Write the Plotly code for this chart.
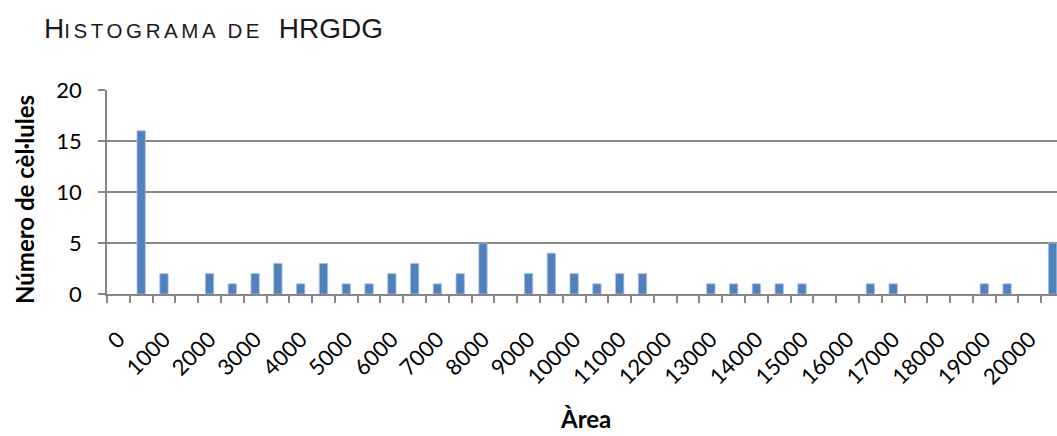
import plotly.graph_objects as go

# Histogram bins (upper bound of each 500-wide bin) plus the overflow bin
bins = [str(v) for v in range(0, 20001, 500)] + ["Més"]
counts = [0, 16, 2, 0, 2, 1, 2, 3, 1, 3,
          1, 1, 2, 3, 1, 2, 5, 0, 2, 4,
          2, 1, 2, 2, 0, 0, 1, 1, 1, 1,
          1, 0, 0, 1, 1, 0, 0, 0, 1, 1,
          0, 5]
# Only every other bin gets a label on the axis
tick_labels = [b if i % 2 == 0 else "" for i, b in enumerate(bins)]

AXIS_GREY = "#868686"
BODY_FONT = "Lato, Carlito, Calibri, sans-serif"
LABEL_FONT = dict(family=BODY_FONT, size=22, color="#000000")
AXIS_TITLE_FONT = dict(family=BODY_FONT, size=24, color="#000000")

# Small-caps style title: reduced, letter-spaced capitals after the initial
SMALL_CAPS = "font-size:20.5px;letter-spacing:3.6px"
TITLE = (
    'H<span style="' + SMALL_CAPS + '">ISTOGRAMA D</span>'
    '<span style="font-size:20.5px;letter-spacing:11.5px">E</span> HRGDG'
)

fig = go.Figure(
    go.Bar(
        x=bins,
        y=counts,
        marker=dict(
            color="#4F81BD",
            # thin light edge on filled bars only, so empty bins stay blank
            line=dict(color="#A7C1E2", width=[0.8 if c > 0 else 0 for c in counts]),
        ),
        hoverinfo="x+y",
    )
)

fig.update_layout(
    width=1057,
    height=436,
    autosize=False,
    margin=dict(l=107, r=0, t=90, b=142, pad=0),
    paper_bgcolor="white",
    plot_bgcolor="white",
    showlegend=False,
    bargap=0.635,
    title=dict(
        text=TITLE,
        font=dict(family="Liberation Sans, Arial, sans-serif", size=28, color="#1a1a1a"),
        xref="container",
        yref="container",
        x=44 / 1057,
        xanchor="left",
        y=1 - 28 / 436,
        yanchor="middle",
    ),
    xaxis=dict(
        type="category",
        range=[-0.5, 41.19],
        tickmode="array",
        tickvals=bins,
        ticktext=tick_labels,
        tickson="boundaries",
        ticks="outside",
        ticklen=7,
        tickwidth=1.5,
        tickcolor=AXIS_GREY,
        showline=True,
        linecolor=AXIS_GREY,
        linewidth=1.5,
        showgrid=False,
        zeroline=False,
        tickangle=-45,
        tickfont=LABEL_FONT,
        ticklabelstandoff=22,
    ),
    yaxis=dict(
        range=[0, 20],
        tickmode="array",
        tickvals=[0, 5, 10, 15, 20],
        ticks="outside",
        ticklen=7,
        tickwidth=1.5,
        tickcolor=AXIS_GREY,
        showline=True,
        linecolor=AXIS_GREY,
        linewidth=1.5,
        showgrid=True,
        gridcolor=AXIS_GREY,
        gridwidth=1.5,
        zeroline=False,
        tickfont=LABEL_FONT,
        ticklabelstandoff=12,
    ),
    annotations=[
        dict(
            text="<b>Número de cèl·lules</b>",
            xref="paper", yref="paper",
            x=-0.0863, y=0.461,
            xanchor="center", yanchor="middle",
            textangle=-90,
            showarrow=False,
            font=AXIS_TITLE_FONT,
        ),
        dict(
            text="<b>Àrea</b>",
            xref="paper", yref="paper",
            x=0.504, y=-0.692,
            xanchor="center", yanchor="bottom",
            showarrow=False,
            font=AXIS_TITLE_FONT,
        ),
    ],
)

fig.write_html("out.html")
